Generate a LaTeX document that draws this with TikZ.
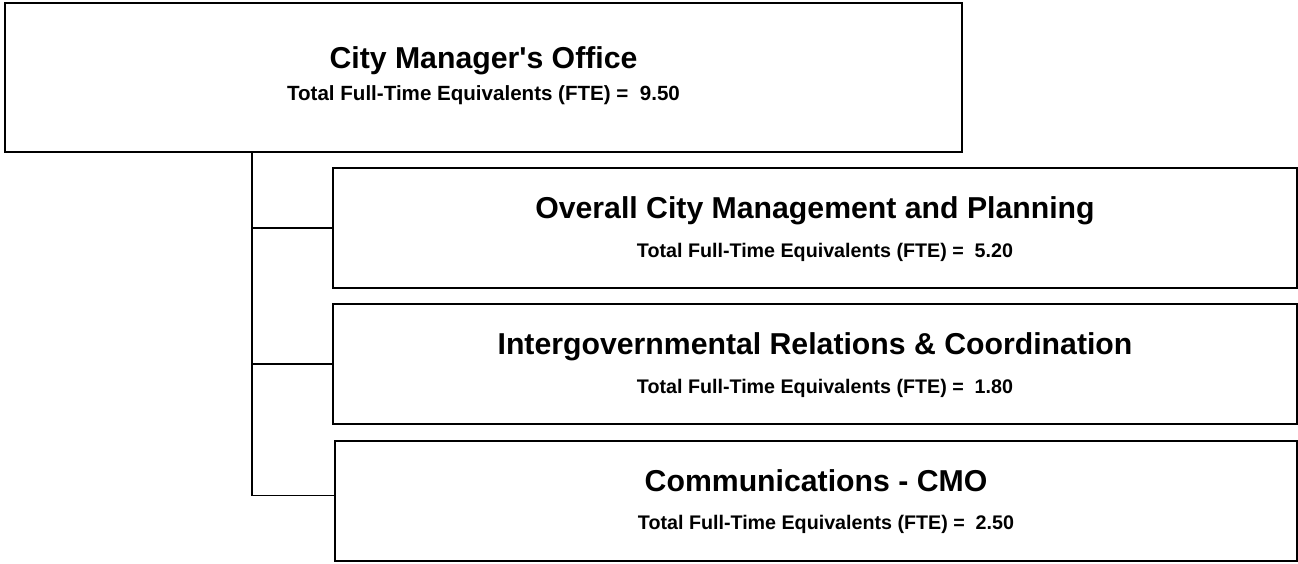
\documentclass[tikz,border=0pt]{standalone}
\usepackage{fontspec}
\setmainfont{Liberation Sans}
\usetikzlibrary{positioning, calc}
\definecolor{tinta}{HTML}{000000}
\tikzset{
  caja/.style={rectangle, draw=tinta, line width=1.4pt, fill=white, inner sep=0pt, outer sep=0pt},
  cajahija/.style={caja, minimum width=19.28cm, minimum height=2.4cm},
  titulo/.style={anchor=base, font=\fontsize{17.2}{20}\selectfont\bfseries, text=tinta},
  subtitulo/.style={anchor=base, font=\fontsize{11.2}{13}\selectfont\bfseries, text=tinta},
  linea/.style={line width=1pt, color=tinta}
}
\begin{document}
\begin{tikzpicture}
  \useasboundingbox (0,0) rectangle (25.96,-11.26);
  % oficina principal
  \node (cmo) [caja, minimum width=19.14cm, minimum height=2.98cm] at (9.67,-1.55) {};
  \node at ([yshift=0.19cm]cmo.center) [titulo] {City Manager\textquotesingle s Office};
  \node at ([yshift=-0.45cm]cmo.center) [subtitulo, font=\fontsize{11.7}{13}\selectfont\bfseries] {Total Full-Time Equivalents (FTE) = \ 9.50};
  % programas
  \node (omp) [cajahija, below right=0.32cm and 6.56cm of cmo.south west] {};
  \node at ([yshift=0.19cm]omp.center) [titulo] {Overall City Management and Planning};
  \node at ([xshift=0.2cm, yshift=-0.58cm]omp.center) [subtitulo] {Total Full-Time Equivalents (FTE) = \ 5.20};
  \node (igr) [cajahija, below right=0.32cm and 0cm of omp.south west] {};
  \node at ([yshift=0.19cm]igr.center) [titulo] {Intergovernmental Relations \& Coordination};
  \node at ([xshift=0.2cm, yshift=-0.58cm]igr.center) [subtitulo] {Total Full-Time Equivalents (FTE) = \ 1.80};
  \node (com) [cajahija, minimum width=19.24cm, minimum height=2.4cm, below right=0.34cm and 0.04cm of igr.south west] {};
  \node at ([yshift=0.19cm]com.center) [titulo] {Communications - CMO};
  \node at ([xshift=0.2cm, yshift=-0.57cm]com.center) [subtitulo] {Total Full-Time Equivalents (FTE) = \ 2.50};
  % conectores
  \coordinate (tronco) at ([xshift=4.94cm]cmo.south west);
  \draw [linea] (tronco) |- ([yshift=0.11cm]com.west);
  \draw [linea] (tronco |- omp.west) -- (omp.west);
  \draw [linea] (tronco |- igr.west) -- (igr.west);
\end{tikzpicture}
\end{document}
